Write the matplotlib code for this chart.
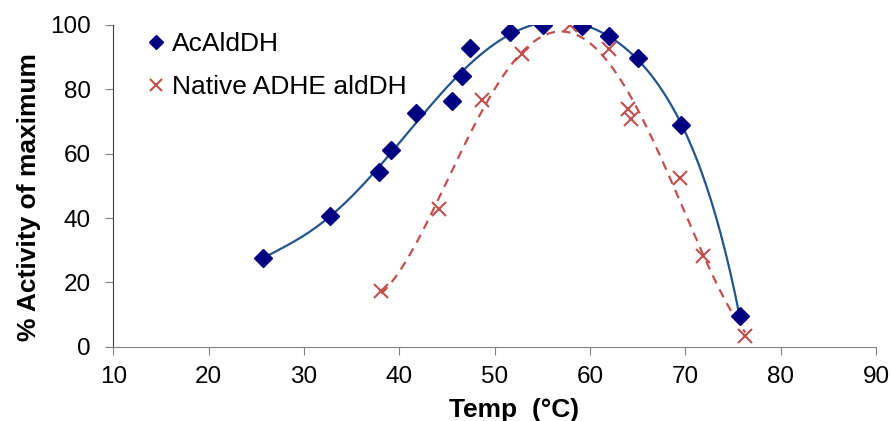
import numpy as np
import matplotlib.pyplot as plt

# Temperature profile data
acal_temp = [25.7, 32.7, 37.9, 39.1, 41.8, 45.5, 46.6, 47.4, 51.6, 55.1, 59.2, 62.0, 65.0, 69.6, 75.7]
acal_act = [27.5, 40.6, 54.2, 61.2, 72.7, 76.4, 84.0, 92.8, 97.8, 100.0, 99.7, 96.4, 89.7, 68.9, 9.6]

adhe_temp = [38.1, 44.2, 48.7, 52.9, 57.9, 62.0, 64.0, 64.3, 69.4, 71.9, 76.3]
adhe_act = [17.5, 42.8, 76.7, 91.1, 100.0, 92.5, 73.8, 70.7, 52.3, 28.2, 3.4]

x_ticks = [10, 20, 30, 40, 50, 60, 70, 80, 90]
y_ticks = [0, 20, 40, 60, 80, 100]

plt.rcParams['font.family'] = ['Liberation Sans', 'DejaVu Sans']

fig = plt.figure(figsize=(8.92, 4.21), dpi=100)
ax = fig.add_axes([0.127, 0.176, 0.855, 0.765])

# smooth trend lines fitted to the measured points
p1 = np.polyfit(acal_temp, acal_act, 6)
xs1 = np.linspace(min(acal_temp), max(acal_temp), 200)
ax.plot(xs1, np.polyval(p1, xs1), color='#24548A', lw=1.6)

p2 = np.polyfit(adhe_temp, adhe_act, 4)
xs2 = np.linspace(min(adhe_temp), max(adhe_temp), 200)
ax.plot(xs2, np.polyval(p2, xs2), color='#C0504D', lw=1.6, ls=(0, (4, 3)))

ax.plot(acal_temp, acal_act, 'D', color='#000080', ms=9, label='AcAldDH')
ax.plot(adhe_temp, adhe_act, 'x', color='#C0504D', ms=10, mew=1.5, label='Native ADHE aldDH')

ax.set_xlim(10, 90)
ax.set_ylim(0, 100)
ax.set_xticks(x_ticks)
ax.set_yticks(y_ticks)
ax.tick_params(labelsize=17.5, direction='out', length=6, color='#808080')
ax.tick_params(axis='y', pad=10)
ax.tick_params(axis='x', pad=8)
ax.spines['top'].set_visible(False)
ax.spines['right'].set_visible(False)
ax.spines['left'].set_color('#404040')
ax.spines['bottom'].set_color('#808080')

ax.set_xlabel('Temp  (°C)', fontsize=19, fontweight='bold')
ax.set_ylabel('% Activity of maximum', fontsize=19, fontweight='bold')
ax.xaxis.set_label_coords(0.526, -0.16)
ax.yaxis.set_label_coords(-0.095, 0.466)

ax.legend(loc='upper left', frameon=False, fontsize=19, handlelength=0.5,
          handletextpad=0.35, labelspacing=0.72, borderaxespad=0.0,
          markerscale=0.8, bbox_to_anchor=(0.034, 1.01))

fig.savefig('out.png', dpi=100)
